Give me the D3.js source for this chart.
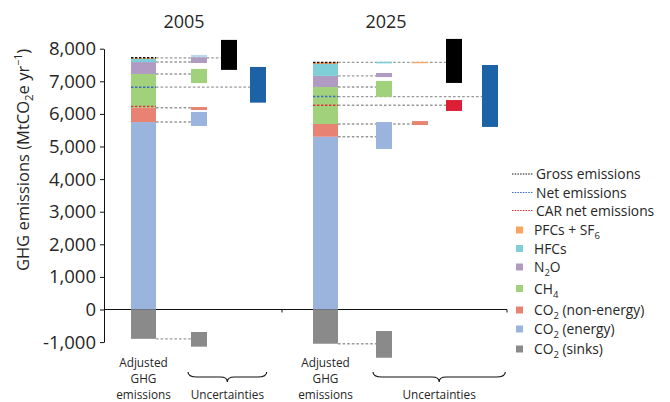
<!DOCTYPE html>
<html>
<head>
<meta charset="utf-8">
<script src="https://cdn.jsdelivr.net/npm/d3@7"></script>
<style>
  html, body { margin: 0; padding: 0; background: #fff; }
  svg { display: block; font-family: "Open Sans", Lato, sans-serif; }
</style>
</head>
<body>
<svg id="chart" width="670" height="402"></svg>
<script>
// ---- Data (MtCO2e yr-1) ----
const years = ["2005", "2025"];
// stack components, bottom to top
const componentKeys = ["co2Energy", "co2NonEnergy", "ch4", "n2o", "hfc", "pfc"];
const values2005 = [5750, 440, 1035, 365, 100, 30];
const values2025 = [5300, 390, 1135, 340, 365, 50];
const sinkValues = [-900, -1050];
const carNetValues = [6230, 6265];

// uncertainty ranges [low, high] and the column they sit in
const uncertainty2005 = [
  { key: "hfc",          lo: 7740,  hi: 7810, col: "u1" },
  { key: "n2o",          lo: 7560,  hi: 7736, col: "u1" },
  { key: "ch4",          lo: 6945,  hi: 7380, col: "u1" },
  { key: "co2NonEnergy", lo: 6120,  hi: 6210, col: "u1" },
  { key: "co2Energy",    lo: 5630,  hi: 6060, col: "u1" },
  { key: "co2Sinks",     lo: -1140, hi: -690, col: "u1" },
  { key: "gross",        lo: 7350,  hi: 8270, col: "gross" },
  { key: "net",          lo: 6345,  hi: 7440, col: "net" }
];
const uncertainty2025 = [
  { key: "hfc",          lo: 7550,  hi: 7600, col: "u1" },
  { key: "pfc",          lo: 7555,  hi: 7595, col: "u2" },
  { key: "n2o",          lo: 7130,  hi: 7255, col: "u1" },
  { key: "ch4",          lo: 6520,  hi: 7010, col: "u1" },
  { key: "co2NonEnergy", lo: 5660,  hi: 5780, col: "u2" },
  { key: "co2Energy",    lo: 4925,  hi: 5750, col: "u1" },
  { key: "co2Sinks",     lo: -1480, hi: -660, col: "u1" },
  { key: "gross",        lo: 6950,  hi: 8300, col: "gross" },
  { key: "car",          lo: 6090,  hi: 6425, col: "gross" },
  { key: "net",          lo: 5600,  hi: 7500, col: "net" }
];

const yTickValues = [-1000, 0, 1000, 2000, 3000, 4000, 5000, 6000, 7000, 8000];
const yTickLabels = ["-1,000", "0", "1,000", "2,000", "3,000", "4,000", "5,000", "6,000", "7,000", "8,000"];

// ---- Styling ----
const colors = {
  pfc: "#f9a45f",
  hfc: "#7ecfd8",
  n2o: "#b09bc2",
  ch4: "#a1d17b",
  co2NonEnergy: "#e88272",
  co2Energy: "#9bb4de",
  co2Sinks: "#8a8a8a",
  gross: "#000000",
  net: "#1c62a6",
  car: "#dc1f34"
};
const lineColors = { gross: "#111", net: "#3a6cc0", car: "#e0303c" };
const uncColors2005 = Object.assign({}, colors, { hfc: "#bad9ec" });

const svg = d3.select("#chart");
const textColor = "#262626";

const y = d3.scaleLinear().domain([-1000, 8000]).range([342.1, 48.7]);

// column centres for each year's group
const colKeys = ["2005:stack", "2005:u1", "2005:gross", "2005:net",
                 "2025:stack", "2025:u1", "2025:u2", "2025:gross", "2025:net"];
const x = d3.scaleOrdinal().domain(colKeys)
  .range([143.5, 199, 229, 258, 325.5, 384, 420, 454, 490]);
const stackW = 25, uncW = 16;

// ---- Axes ----
const yAxis = d3.axisLeft(y)
  .tickValues(yTickValues)
  .tickFormat((d, i) => yTickLabels[i])
  .tickSize(4).tickSizeOuter(0).tickPadding(4);
const gY = svg.append("g").attr("transform", "translate(104,0)").call(yAxis);
gY.selectAll("text").attr("font-size", 18.5).attr("fill", textColor)
  .attr("font-family", "'Open Sans', Lato, sans-serif");
gY.select(".domain").attr("stroke", "#111");
gY.selectAll(".tick line").attr("stroke", "#111");

// zero baseline with group separators
const xAxisLine = svg.append("g");
xAxisLine.append("line")
  .attr("x1", 104).attr("x2", 507).attr("y1", y(0)).attr("y2", y(0))
  .attr("stroke", "#111").attr("stroke-width", 1);
[282, 507].forEach(px => {
  xAxisLine.append("line")
    .attr("x1", px).attr("x2", px).attr("y1", y(0)).attr("y2", y(0) + 3)
    .attr("stroke", "#111");
});

// y title with subscript/superscript
const yTitle = svg.append("text")
  .attr("transform", "translate(29,160) rotate(-90)")
  .attr("text-anchor", "middle")
  .attr("font-size", 16.5).attr("fill", textColor);
yTitle.append("tspan").text("GHG emissions (MtCO");
yTitle.append("tspan").text("2").attr("font-size", 11.5).attr("dy", 4);
yTitle.append("tspan").text("e yr").attr("dy", -4);
yTitle.append("tspan").text("\u22121").attr("font-size", 10.5).attr("dy", -7);
yTitle.append("tspan").text(")").attr("dy", 7);

// ---- Groups ----
const yearData = [
  { year: "2005", values: values2005, sink: sinkValues[0], car: carNetValues[0], unc: uncertainty2005, uncColors: uncColors2005 },
  { year: "2025", values: values2025, sink: sinkValues[1], car: carNetValues[1], unc: uncertainty2025, uncColors: colors }
];

const gConn = svg.append("g");
const gBars = svg.append("g");
const gLines = svg.append("g");

yearData.forEach(d => {
  const cx = x(d.year + ":stack");
  const x0 = cx - stackW / 2, x1 = cx + stackW / 2;

  // cumulative levels
  const levels = {};
  let cum = 0;
  const segs = componentKeys.map((k, i) => {
    const s = { key: k, lo: cum, hi: cum + d.values[i] };
    cum += d.values[i];
    levels[k] = cum;
    return s;
  });
  const gross = cum;
  const net = gross + d.sink;
  levels.gross = gross;
  levels.net = net;
  levels.car = d.car;
  levels.co2Sinks = d.sink;

  // grey connectors from the stack to each uncertainty bar
  const connectKeys = ["gross", "n2o", "ch4", "net", "car", "co2NonEnergy", "co2Energy", "co2Sinks"];
  d.unc.filter(u => connectKeys.includes(u.key)).forEach(u => {
    const ux = x(d.year + ":" + u.col) - uncW / 2;
    gConn.append("line")
      .attr("x1", x1).attr("x2", ux)
      .attr("y1", y(levels[u.key])).attr("y2", y(levels[u.key]))
      .attr("stroke", "#999").attr("stroke-width", 1.4)
      .attr("stroke-dasharray", "2.6,2");
  });

  // stacked segments
  gBars.selectAll(null).data(segs).join("rect")
    .attr("x", x0).attr("width", stackW)
    .attr("y", s => y(s.hi)).attr("height", s => y(s.lo) - y(s.hi))
    .attr("fill", s => colors[s.key]);
  // sinks
  gBars.append("rect")
    .attr("x", x0).attr("width", stackW)
    .attr("y", y(0)).attr("height", y(d.sink) - y(0))
    .attr("fill", colors.co2Sinks);

  // uncertainty bars
  gBars.selectAll(null).data(d.unc).join("rect")
    .attr("x", u => x(d.year + ":" + u.col) - uncW / 2).attr("width", uncW)
    .attr("y", u => y(u.hi)).attr("height", u => Math.max(1, y(u.lo) - y(u.hi)))
    .attr("fill", u => d.uncColors[u.key]);

  // emission totals drawn across the stack
  [["gross", gross], ["net", net], ["car", d.car]].forEach(([k, v]) => {
    gLines.append("line")
      .attr("x1", x0).attr("x2", x1).attr("y1", y(v)).attr("y2", y(v))
      .attr("stroke", lineColors[k]).attr("stroke-width", 1.5)
      .attr("stroke-dasharray", "2.4,1.6");
  });

  // year title
  svg.append("text")
    .attr("x", d.year === "2005" ? 184 : 386).attr("y", 28)
    .attr("text-anchor", "middle").attr("font-size", 18).attr("fill", textColor)
    .text(d.year);

  // bottom labels
  const lab = svg.append("text").attr("text-anchor", "middle")
    .attr("font-size", 11.8).attr("fill", textColor);
  ["Adjusted", "GHG", "emissions"].forEach((t, i) => {
    lab.append("tspan").attr("x", cx).attr("y", 367 + i * 16).text(t);
  });

  // brace under the uncertainty columns
  const uCols = d.unc.map(u => x(d.year + ":" + u.col));
  const bx0 = d3.min(uCols) - uncW / 2 - 3;
  const bx1 = d3.max(uCols) + uncW / 2 + (d.year === "2005" ? 0.7 : 7.3);
  const mid = (bx0 + bx1) / 2;
  const by = 372;
  svg.append("path")
    .attr("d", `M${bx0},${by} Q${bx0},${by + 5} ${bx0 + 9},${by + 5} L${mid - 7},${by + 5}` +
               ` Q${mid},${by + 5} ${mid},${by + 10} Q${mid},${by + 5} ${mid + 7},${by + 5}` +
               ` L${bx1 - 9},${by + 5} Q${bx1},${by + 5} ${bx1},${by}`)
    .attr("fill", "none").attr("stroke", "#111").attr("stroke-width", 1.1);
  svg.append("text").attr("x", mid).attr("y", 399)
    .attr("text-anchor", "middle").attr("font-size", 11.8).attr("fill", textColor)
    .text("Uncertainties");
});

// ---- Legend ----
const legend = svg.append("g").attr("font-size", 13.8).attr("fill", textColor);
const lineItems = [
  { key: "gross", label: "Gross emissions", cy: 174 },
  { key: "net", label: "Net emissions", cy: 192.5 },
  { key: "car", label: "CAR net emissions", cy: 210.5 }
];
lineItems.forEach(it => {
  legend.append("line").attr("x1", 512).attr("x2", 533)
    .attr("y1", it.cy).attr("y2", it.cy)
    .attr("stroke", lineColors[it.key]).attr("stroke-width", 1.2)
    .attr("stroke-dasharray", "1.5,1.2");
  legend.append("text").attr("x", 536).attr("y", it.cy + 5).text(it.label);
});

const boxItems = [
  { key: "pfc", parts: [["PFCs + SF"], ["6", "sub"]], cy: 230 },
  { key: "hfc", parts: [["HFCs"]], cy: 248.5 },
  { key: "n2o", parts: [["N"], ["2", "sub"], ["O"]], cy: 267 },
  { key: "ch4", parts: [["CH"], ["4", "sub"]], cy: 288.5 },
  { key: "co2NonEnergy", parts: [["CO"], ["2", "sub"], [" (non-energy)"]], cy: 310 },
  { key: "co2Energy", parts: [["CO"], ["2", "sub"], [" (energy)"]], cy: 329 },
  { key: "co2Sinks", parts: [["CO"], ["2", "sub"], [" (sinks)"]], cy: 349 }
];
boxItems.forEach(it => {
  legend.append("rect").attr("x", 516).attr("y", it.cy - 3.5)
    .attr("width", 7).attr("height", 7).attr("fill", colors[it.key]);
  const t = legend.append("text").attr("x", 534).attr("y", it.cy + 5);
  let shifted = false;
  it.parts.forEach(([s, kind]) => {
    const sp = t.append("tspan").text(s);
    if (kind === "sub") { sp.attr("font-size", 9.5).attr("dy", 4); shifted = true; }
    else if (shifted) { sp.attr("dy", -4); shifted = false; }
  });
});
</script>
</body>
</html>
